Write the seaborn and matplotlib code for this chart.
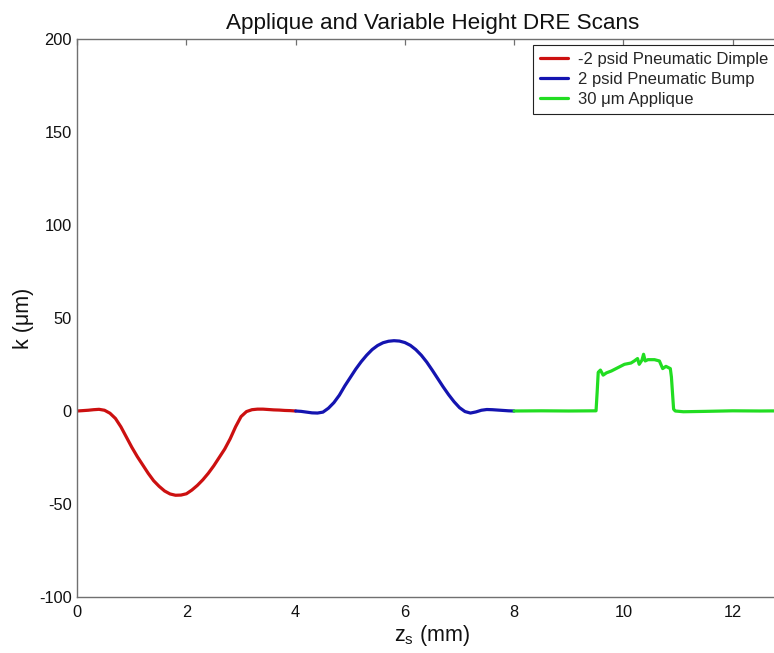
import numpy as np
import pandas as pd
import seaborn as sns
import matplotlib.pyplot as plt

# (z_s in mm, k in um)
dimple_z = [0.0, 0.1, 0.2, 0.3, 0.4, 0.5, 0.6, 0.7, 0.8, 0.9, 1.0, 1.1, 1.2, 1.3,
            1.4, 1.5, 1.6, 1.7, 1.8, 1.9, 2.0, 2.1, 2.2, 2.3, 2.4, 2.5, 2.6, 2.7,
            2.8, 2.9, 3.0, 3.1, 3.2, 3.3, 3.4, 3.5, 3.6, 3.7, 3.8, 3.9, 4.0]
dimple_k = [0, 0.2, 0.4, 0.7, 0.9, 0.4, -1.2, -4, -8.5, -14, -19.5, -24.5, -29,
            -33.5, -37.5, -40.5, -43, -44.6, -45.3, -45.2, -44.5, -42.5, -40, -37,
            -33.5, -29.5, -25, -20.5, -15, -8.5, -3, -0.3, 0.7, 1, 1, 0.8, 0.6,
            0.5, 0.3, 0.2, 0]

bump_z = [4.0, 4.1, 4.2, 4.3, 4.4, 4.5, 4.6, 4.7, 4.8, 4.9, 5.0, 5.1, 5.2, 5.3,
          5.4, 5.5, 5.6, 5.7, 5.8, 5.9, 6.0, 6.1, 6.2, 6.3, 6.4, 6.5, 6.6, 6.7,
          6.8, 6.9, 7.0, 7.1, 7.2, 7.3, 7.4, 7.5, 7.6, 7.7, 7.8, 7.9, 8.0]
bump_k = [0, -0.2, -0.6, -1, -1.1, -0.6, 1.5, 4.5, 8.5, 13.5, 18, 22.5, 26.5, 30,
          33, 35.2, 36.7, 37.5, 37.8, 37.6, 36.8, 35.3, 33, 30, 26.3, 22, 17.5,
          13, 8.8, 5, 1.8, -0.3, -1.1, -0.5, 0.4, 0.8, 0.7, 0.5, 0.3, 0.1, 0]

applique_z = [8.0, 8.5, 9.0, 9.5, 9.52, 9.54, 9.58, 9.63, 9.69, 9.78, 9.9, 10.02,
              10.14, 10.2, 10.26, 10.29, 10.34, 10.37, 10.4, 10.45, 10.57, 10.66,
              10.72, 10.78, 10.86, 10.88, 10.92, 10.95, 11.1, 11.5, 12.0, 12.5, 13.0]
applique_k = [0, 0.1, 0, 0.1, 10, 20.8, 22, 19.3, 20.5, 21.5, 23.3, 25.1, 25.8,
              26.9, 28.2, 25.1, 27.3, 30.5, 26.9, 27.6, 27.6, 26.9, 22.8, 24, 22.8,
              18.3, 1, 0, -0.4, -0.2, 0.1, 0, 0.1]

labels = ["-2 psid Pneumatic Dimple", "2 psid Pneumatic Bump", "30 \u03bcm Applique"]
colors = ["#cc1010", "#1414b0", "#22dd22"]

df = pd.concat([
    pd.DataFrame({"z": dimple_z, "k": dimple_k, "scan": labels[0]}),
    pd.DataFrame({"z": bump_z, "k": bump_k, "scan": labels[1]}),
    pd.DataFrame({"z": applique_z, "k": applique_k, "scan": labels[2]}),
])

sns.set_theme(style="white")
plt.rcParams["font.family"] = ["Liberation Sans", "DejaVu Sans"]
plt.rcParams["mathtext.default"] = "regular"
plt.rcParams["axes.unicode_minus"] = False

fig = plt.figure(figsize=(7.74, 6.53), dpi=100)
# axes run slightly past the right edge, like the cropped original
ax = fig.add_axes([77.2 / 774, 56 / 653, 710 / 774, 558 / 653])

sns.lineplot(data=df, x="z", y="k", hue="scan", palette=colors, sort=False,
             estimator=None, linewidth=2.3, ax=ax)

ax.set_xlim(0, 13)
ax.set_ylim(-100, 200)
ax.set_xticks(range(0, 14, 2))
ax.set_yticks(range(-100, 201, 50))

for s in ax.spines.values():
    s.set_color("#707070")
    s.set_linewidth(1.0)
ax.tick_params(direction="in", length=4.5, width=0.9, color="#707070",
               labelsize=11.8, labelcolor="#111111", top=True, right=True)
ax.tick_params(axis="x", pad=6)
ax.tick_params(axis="y", pad=4)

ax.set_title("Applique and Variable Height DRE Scans", fontsize=16.2, pad=7,
             color="#111111")
ax.set_xlabel("z$_s$ (mm)", fontsize=15.5, labelpad=2, color="#111111")
ax.set_ylabel("k (\u03bcm)", fontsize=15.5, color="#111111")
ax.yaxis.set_label_coords(-0.061, 0.5)

leg = ax.legend(loc="upper left", bbox_to_anchor=(533 / 774, 1 - 45 / 653),
                bbox_transform=fig.transFigure, fontsize=12, frameon=True,
                fancybox=False, framealpha=1, edgecolor="#222222",
                handlelength=1.7, handletextpad=0.6, labelspacing=0.32,
                borderpad=0.4, borderaxespad=0)
leg.get_frame().set_linewidth(0.8)
for line in leg.get_lines():
    line.set_linewidth(2.3)

fig.savefig("out.png", dpi=100)
